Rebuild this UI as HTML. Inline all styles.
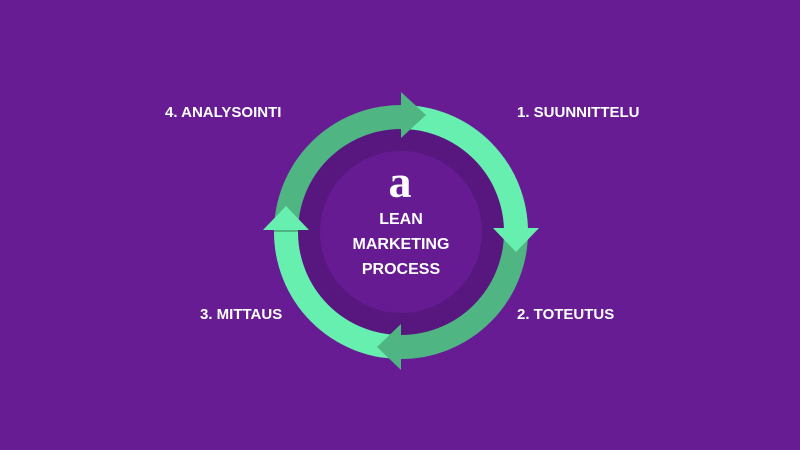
<!DOCTYPE html>
<html><head><style>
html,body{margin:0;padding:0;background:#671c94;}
svg{display:block}
text{font-family:"Liberation Sans",sans-serif;font-weight:bold;fill:#fff}
</style></head><body>
<svg width="800" height="450" viewBox="0 0 800 450" xmlns="http://www.w3.org/2000/svg">
<rect width="800" height="450" fill="#671c94"/>
<circle cx="401" cy="232" r="104" fill="#58177f"/>
<circle cx="401" cy="232" r="81" fill="#661b93"/>
<g fill="none" stroke-width="24">
<path d="M286,232 A115,115 0 0 1 401,117" stroke="#4fb583"/>
<path d="M401,117 A115,115 0 0 1 516,232" stroke="#67efb0"/>
<path d="M516,232 A115,115 0 0 1 401,347" stroke="#4fb583"/>
<path d="M401,347 A115,115 0 0 1 286,232" stroke="#67efb0"/>
</g>
<polygon points="401,92 401,138 426,115" fill="#4fb583"/>
<polygon points="493,228 539,228 516,252" fill="#67efb0"/>
<polygon points="401,324 401,370 377,347" fill="#4fb583"/>
<polygon points="263,230 309,230 286,206" fill="#67efb0"/>
<text x="165" y="117" font-size="15">4. ANALYSOINTI</text>
<text x="517" y="117" font-size="15">1. SUUNNITTELU</text>
<text x="200" y="319" font-size="15">3. MITTAUS</text>
<text x="517" y="319" font-size="15">2. TOTEUTUS</text>
<text x="400" y="197" font-size="46" text-anchor="middle" style="font-family:'Liberation Serif',serif;font-weight:bold">a</text>
<text x="401" y="224" font-size="16" text-anchor="middle">LEAN</text>
<text x="401" y="249" font-size="16" text-anchor="middle">MARKETING</text>
<text x="401" y="274" font-size="16" text-anchor="middle">PROCESS</text>
</svg>
</body></html>
